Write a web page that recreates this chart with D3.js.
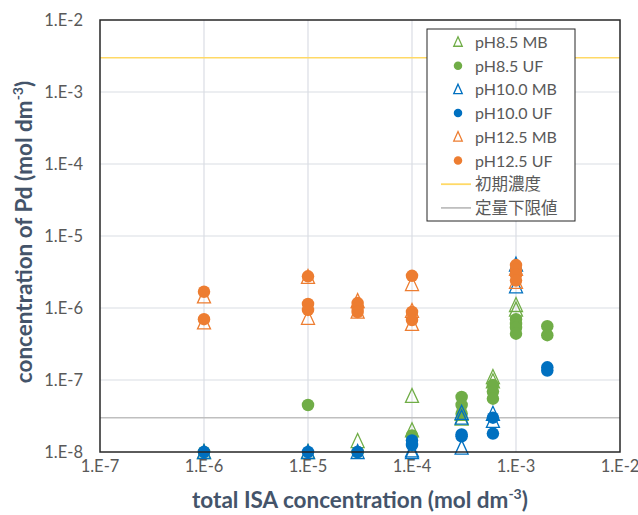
<!DOCTYPE html>
<html>
<head>
<meta charset="utf-8">
<script src="https://cdn.jsdelivr.net/npm/d3@7"></script>
<style>
  body { margin: 0; background: #fff; }
  text { font-family: Lato, "Noto Sans CJK JP", sans-serif; }
</style>
</head>
<body>
<svg id="chart" width="638" height="515"></svg>
<script>
// Data: [total ISA concentration, Pd concentration]
const ph85MB = [
  [1e-6, 1e-8], [1e-5, 1e-8], [3e-5, 1.42e-8],
  [1e-4, 6.0e-8], [1e-4, 2.0e-8],
  [3e-4, 3.4e-8], [3e-4, 2.9e-8],
  [6e-4, 1.1e-7], [6e-4, 9.6e-8],
  [1e-3, 1.1e-6], [1e-3, 9.5e-7],
];
const ph85UF = [
  [1e-6, 1e-8], [1e-5, 4.5e-8], [3e-5, 1e-8], [1e-4, 1.7e-8],
  [3e-4, 5.8e-8], [3e-4, 4.5e-8], [3e-4, 3.4e-8],
  [6e-4, 8.5e-8], [6e-4, 6.9e-8], [6e-4, 5.5e-8],
  [1e-3, 7.0e-7], [1e-3, 6.0e-7], [1e-3, 5.3e-7], [1e-3, 4.4e-7],
  [2e-3, 5.6e-7], [2e-3, 4.2e-7],
];
const ph100MB = [
  [1e-6, 1e-8], [1e-5, 1e-8], [3e-5, 1e-8],
  [1e-4, 1.0e-8], [1e-4, 1.05e-8],
  [3e-4, 3.5e-8], [3e-4, 3.0e-8], [3e-4, 1.15e-8],
  [6e-4, 3.4e-8], [6e-4, 2.7e-8],
  [1e-3, 4.0e-6], [1e-3, 2.0e-6],
];
const ph100UF = [
  [1e-6, 1e-8], [1e-5, 1e-8], [3e-5, 1e-8],
  [1e-4, 1.45e-8], [1e-4, 1.25e-8],
  [3e-4, 1.75e-8], [3e-4, 1.65e-8],
  [6e-4, 3.0e-8], [6e-4, 1.8e-8],
  [1e-3, 3.0e-6],
  [2e-3, 1.5e-7], [2e-3, 1.35e-7],
];
const ph125MB = [
  [1e-6, 1.45e-6], [1e-6, 6.3e-7],
  [1e-5, 2.7e-6], [1e-5, 7.3e-7],
  [3e-5, 1.25e-6], [3e-5, 8.9e-7],
  [1e-4, 2.15e-6], [1e-4, 9.1e-7], [1e-4, 6.0e-7],
  [1e-3, 3.5e-6], [1e-3, 2.3e-6],
];
const ph125UF = [
  [1e-6, 1.68e-6], [1e-6, 7.0e-7],
  [1e-5, 2.75e-6], [1e-5, 1.14e-6], [1e-5, 9.4e-7],
  [3e-5, 1.17e-6], [3e-5, 1.0e-6], [3e-5, 8.8e-7],
  [1e-4, 2.8e-6], [1e-4, 8.8e-7], [1e-4, 6.8e-7],
  [1e-3, 3.95e-6], [1e-3, 3.4e-6], [1e-3, 2.9e-6], [1e-3, 2.4e-6],
];
const initialConc = 3e-3;
const quantLimit = 3e-8;
const xTicks = [1e-7, 1e-6, 1e-5, 1e-4, 1e-3, 1e-2];
const yTicks = [1e-8, 1e-7, 1e-6, 1e-5, 1e-4, 1e-3, 1e-2];

const seriesList = [
  { name: 'pH8.5 MB', data: ph85MB, color: '#70ad47', shape: 'tri' },
  { name: 'pH8.5 UF', data: ph85UF, color: '#70ad47', shape: 'dot' },
  { name: 'pH10.0 MB', data: ph100MB, color: '#0070c0', shape: 'tri' },
  { name: 'pH10.0 UF', data: ph100UF, color: '#0070c0', shape: 'dot' },
  { name: 'pH12.5 MB', data: ph125MB, color: '#ed7d31', shape: 'tri' },
  { name: 'pH12.5 UF', data: ph125UF, color: '#ed7d31', shape: 'dot' },
];
const refLines = [
  { name: '初期濃度', value: initialConc, color: '#ffd966' },
  { name: '定量下限値', value: quantLimit, color: '#bfbfbf' },
];

const plot = { left: 100, right: 620, top: 20, bottom: 452 };
const textColor = '#595959';
const titleColor = '#44546a';

// Scales
const xScale = d3.scaleLog().domain([1e-7, 1e-2]).range([plot.left, plot.right]);
const yScale = d3.scaleLog().domain([1e-8, 1e-2]).range([plot.bottom, plot.top]);
const fmt = d => '1.E' + Math.round(Math.log10(d));

function triPath(s) {
  const h = s / 2;
  return `M0,${-h - 1}L${h},${h}L${-h},${h}Z`;
}

function drawMarker(g, shape, color, size) {
  if (shape === 'tri') {
    g.append('path')
      .attr('d', triPath(size))
      .attr('fill', 'none')
      .attr('stroke', color)
      .attr('stroke-width', 1.3);
  } else {
    g.append('circle').attr('r', size / 2).attr('fill', color);
  }
}

const svg = d3.select('#chart');

// Grid
svg
  .append('g')
  .selectAll('line')
  .data(xTicks.slice(1, -1))
  .enter()
  .append('line')
  .attr('x1', d => xScale(d))
  .attr('x2', d => xScale(d))
  .attr('y1', plot.top)
  .attr('y2', plot.bottom)
  .attr('stroke', '#dadde4')
  .attr('stroke-width', 1.2);

svg
  .append('g')
  .selectAll('line')
  .data(yTicks.slice(1, -1))
  .enter()
  .append('line')
  .attr('x1', plot.left)
  .attr('x2', plot.right)
  .attr('y1', d => yScale(d))
  .attr('y2', d => yScale(d))
  .attr('stroke', '#dadde4')
  .attr('stroke-width', 1.2);

// Reference lines
svg
  .append('g')
  .selectAll('line')
  .data(refLines)
  .enter()
  .append('line')
  .attr('x1', plot.left)
  .attr('x2', plot.right)
  .attr('y1', d => yScale(d.value))
  .attr('y2', d => yScale(d.value))
  .attr('stroke', d => d.color)
  .attr('stroke-width', 1.5);

// Points
seriesList.forEach(s => {
  svg
    .append('g')
    .selectAll('g')
    .data(s.data)
    .enter()
    .append('g')
    .attr('transform', d => `translate(${xScale(d[0])},${yScale(d[1])})`)
    .each(function () {
      drawMarker(d3.select(this), s.shape, s.color, s.shape === 'tri' ? 13 : 12.5);
    });
});

// Frame
svg
  .append('rect')
  .attr('x', plot.left)
  .attr('y', plot.top)
  .attr('width', plot.right - plot.left)
  .attr('height', plot.bottom - plot.top)
  .attr('fill', 'none')
  .attr('stroke', '#262626')
  .attr('stroke-width', 1.5);

// Tick labels
svg
  .append('g')
  .selectAll('text')
  .data(xTicks)
  .enter()
  .append('text')
  .attr('x', d => xScale(d))
  .attr('y', 472)
  .attr('text-anchor', 'middle')
  .attr('font-size', 16.5)
  .attr('fill', textColor)
  .text(fmt);

svg
  .append('g')
  .selectAll('text')
  .data(yTicks)
  .enter()
  .append('text')
  .attr('x', 83)
  .attr('y', d => yScale(d) + 6)
  .attr('text-anchor', 'end')
  .attr('font-size', 16.5)
  .attr('fill', textColor)
  .text(fmt);

// Axis titles
const xTitle = svg
  .append('text')
  .attr('x', 360)
  .attr('y', 508)
  .attr('text-anchor', 'middle')
  .attr('font-size', 22.5)
  .attr('font-weight', 'bold')
  .attr('fill', titleColor);
xTitle.append('tspan').text('total ISA concentration (mol dm');
xTitle.append('tspan').attr('font-size', 14).attr('dy', -9).text('-3');
xTitle.append('tspan').attr('dy', 9).text(')');

const yTitle = svg
  .append('text')
  .attr('transform', 'translate(32,232) rotate(-90)')
  .attr('text-anchor', 'middle')
  .attr('font-size', 22.5)
  .attr('font-weight', 'bold')
  .attr('fill', titleColor);
yTitle.append('tspan').text('concentration of Pd (mol dm');
yTitle.append('tspan').attr('font-size', 14).attr('dy', -9).text('-3');
yTitle.append('tspan').attr('dy', 9).text(')');

// Legend
const legend = svg.append('g').attr('class', 'legend');
legend
  .append('rect')
  .attr('x', 427)
  .attr('y', 29)
  .attr('width', 148)
  .attr('height', 192)
  .attr('fill', '#fff')
  .attr('stroke', '#262626')
  .attr('stroke-width', 1);

let curY = 42;
seriesList.forEach(s => {
  const g = legend.append('g').attr('transform', `translate(458,${curY})`);
  drawMarker(g, s.shape, s.color, 8.5);
  legend
    .append('text')
    .attr('x', 475)
    .attr('y', curY + 6)
    .attr('font-size', 16)
    .attr('fill', textColor)
    .text(s.name);
  curY += 23.7;
});
refLines.forEach(r => {
  legend
    .append('line')
    .attr('x1', 441)
    .attr('x2', 471)
    .attr('y1', curY)
    .attr('y2', curY)
    .attr('stroke', r.color)
    .attr('stroke-width', 1.8);
  legend
    .append('text')
    .attr('x', 475)
    .attr('y', curY + 6)
    .attr('font-size', 16.5)
    .attr('fill', textColor)
    .text(r.name);
  curY += 23.7;
});
</script>
</body>
</html>
